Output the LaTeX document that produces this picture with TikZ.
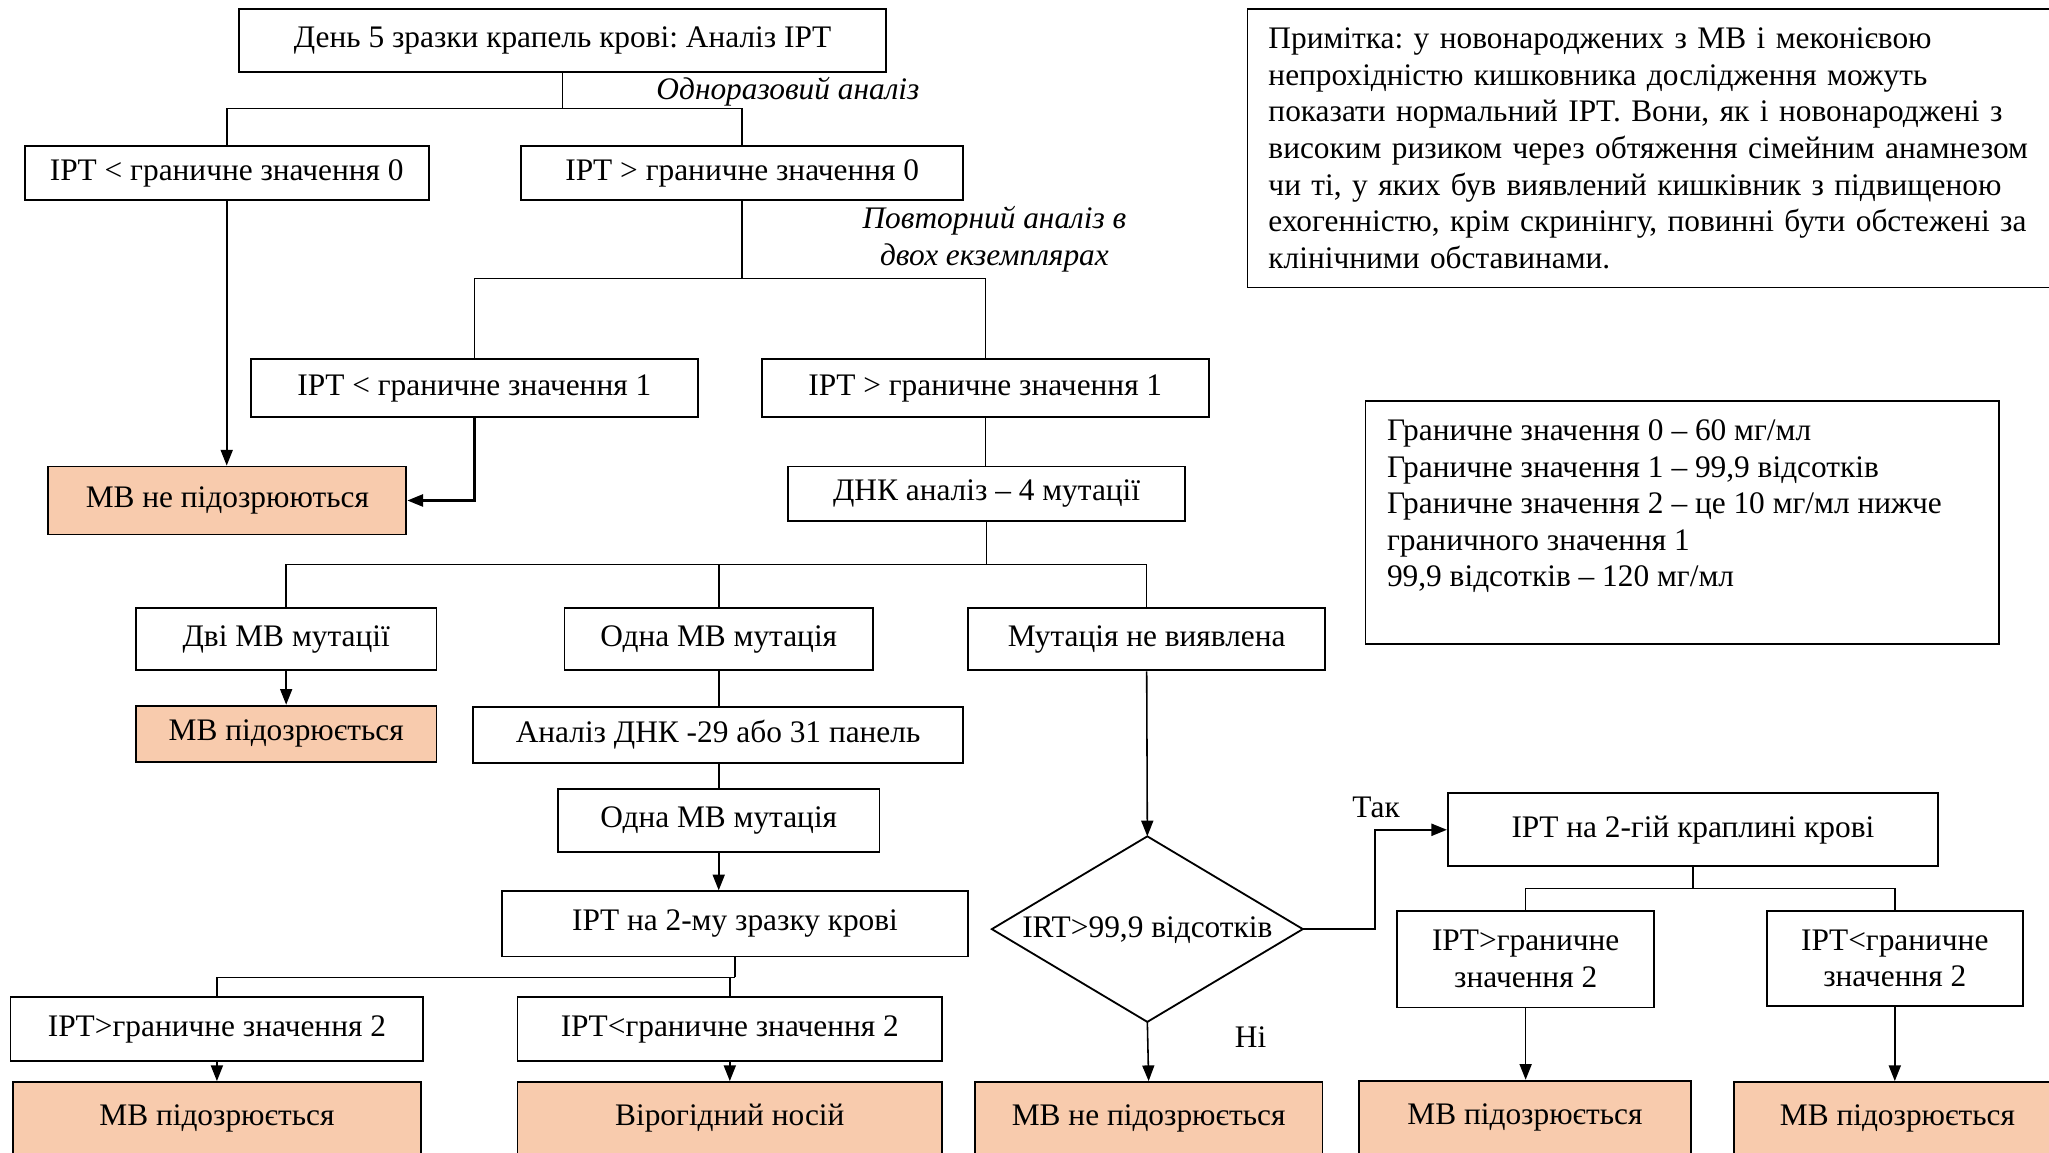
\documentclass[tikz,border=0pt]{standalone}
\usepackage{fontspec}
\setmainfont{Liberation Serif}
\usetikzlibrary{arrows.meta}
\definecolor{peach}{HTML}{F8CBAD}
\frenchspacing
\begin{document}
\begin{tikzpicture}[x=0.5pt,y=-0.5pt,
 sz/.style 2 args={minimum width=#1*0.5pt, minimum height=#2*0.5pt},
 txt/.style={font=\fontsize{12pt}{14pt}\selectfont},
 box/.style={txt, draw, line width=0.7pt, inner sep=0pt, align=center},
 res/.style={box, fill=peach},
 conn/.style={line width=0.6pt},
 arr/.style={conn, -{Triangle[length=6pt,width=4.6pt]}},
 lbl/.style={txt, inner sep=0pt},
 ital/.style={txt, inner sep=0pt, font=\fontsize{12pt}{14pt}\selectfont\itshape, align=center},
]
\useasboundingbox (0,0) rectangle (1568,882);
\clip (0,0) rectangle (1568,882);
\fill[white] (0,0) rectangle (1568,882);

% --- top part
\node[box, sz={495}{48}] (top) at (430.5,31) {День 5 зразки крапель крові: Аналіз IPT};
\node[box, sz={309}{41}] (lt0) at (173.5,132.5) {IPT < граничне значення 0};
\node[box, sz={338}{41}] (gt0) at (568,132.5) {IPT > граничне значення 0};
\node[ital] (single) at (603,70) {Одноразовий аналіз};
\node[ital] (repeat) at (761,183) {Повторний аналіз в\\двох екземплярах};

\node[box, sz={342}{44}] (lt1) at (363,297) {IPT < граничне значення 1};
\node[box, sz={342}{44}] (gt1) at (754,297) {IPT > граничне значення 1};
\node[res, sz={274}{52}] (ns1) at (174,383) {МВ не підозрюються};
\node[box, sz={304}{42}] (dna) at (755,378) {ДНК аналіз – 4 мутації};

\node[box, sz={230}{48}] (two) at (219,489) {Дві МВ мутації};
\node[box, sz={236}{48}] (one) at (550,489) {Одна МВ мутація};
\node[box, sz={273}{48}] (none) at (877.5,489) {Мутація не виявлена};
\node[res, sz={230}{43}] (sus1) at (219,561.5) {МВ підозрюється};
\node[box, sz={375}{43}] (panel) at (549.5,562.5) {Аналіз ДНК -29 або 31 панель};
\node[box, sz={246}{48}] (one2) at (550,628) {Одна МВ мутація};
\node[box, sz={357}{50}] (ipt2) at (562.5,707) {IPT на 2-му зразку крові};
\node[box, sz={316}{49}] (gt2) at (166,787.5) {IPT>граничне значення 2};
\node[box, sz={325}{49}] (lt2) at (558.5,787.5) {IPT<граничне значення 2};
\node[res, sz={312}{56}] (sus2) at (166,856) {МВ підозрюється};
\node[res, sz={325}{56}] (carrier) at (558.5,856) {Вірогідний носій};

% --- diamond
\coordinate (dl) at (759,711);
\coordinate (dt) at (878,640);
\coordinate (dr) at (997,711);
\coordinate (db) at (878,782);
\draw[line width=0.7pt] (dl) -- (dt) -- (dr) -- (db) -- cycle;
\node[lbl] (dtext) at (878,712) {IRT>99,9 відсотків};
\node[res, sz={266}{56}] (ns2) at (879,856) {МВ не підозрюється};
\node[lbl] (yes) at (1053,618) {Так};
\node[lbl] (no) at (957,794) {Ні};

\node[box, sz={375}{56}] (ipt2g) at (1295.5,635) {IPT на 2-гій краплині крові};
\node[box, sz={197}{74}] (gt2r) at (1167.5,734) {IPT>граничне\\значення 2};
\node[box, sz={196}{73}] (lt2r) at (1450,733.5) {IPT<граничне\\значення 2};
\node[res, sz={254}{57}] (sus3) at (1167,855.5) {МВ підозрюється};
\node[res, sz={250}{56}] (sus4) at (1452,856) {МВ підозрюється};

% --- note and legend
\node[txt, draw, line width=0.7pt, anchor=west, inner xsep=8pt, inner ysep=0pt,
      minimum height=213*0.5pt, text width=297pt, align=left] (note) at (954,113.5)
 {Примітка: у новонароджених з МВ і меконієвою\\
  непрохідністю кишковника дослідження можуть\\
  показати нормальний IPT. Вони, як і новонароджені з\\
  високим ризиком через обтяження сімейним анамнезом\\
  чи ті, у яких був виявлений кишківник з підвищеною\\
  ехогенністю, крім скринінгу, повинні бути обстежені за\\
  клінічними обставинами.};

\node[draw, line width=0.7pt, inner sep=0pt, sz={485}{186}] (legend) at (1287.5,400) {};
\node[txt, anchor=west, inner sep=0pt, align=left] (legendtext) at (1061,387.5)
 {Граничне значення 0 – 60 мг/мл\\
  Граничне значення 1 – 99,9 відсотків\\
  Граничне значення 2 – це 10 мг/мл нижче\\
  граничного значення 1\\
  99,9 відсотків – 120 мг/мл};

% --- connectors
\coordinate (j1) at (430.5,83);
\draw[conn] (top.south) -- (j1);
\draw[conn] (lt0.north) |- (j1) -| (gt0.north);
\draw[arr] (lt0.south) -- (lt0.south |- ns1.north);

\coordinate (j2) at (568,213);
\draw[conn] (gt0.south) -- (j2);
\draw[conn] (lt1.north) |- (j2) -| (gt1.north);
\draw[arr, line width=0.9pt] (lt1.south) |- (ns1.east);
\draw[conn] (gt1.south) -- (gt1.south |- dna.north);

\coordinate (j3) at (755,432);
\draw[conn] (dna.south) -- (j3);
\draw[conn] (two.north) |- (j3) -| (none.north);
\draw[conn] (one.north) -- (one.north |- j3);
\draw[arr] (two.south) -- (sus1.north);
\draw[conn] (one.south) -- (panel.north -| one.south);
\draw[conn] (panel.south -| one2.north) -- (one2.north);
\draw[arr] (one2.south) -- (one2.south |- ipt2.north);

\coordinate (j4) at (562.5,748);
\draw[conn] (ipt2.south) -- (j4);
\draw[conn] (gt2.north) |- (j4);
\draw[conn] (lt2.north) -- (lt2.north |- j4);
\draw[arr] (gt2.south) -- (sus2.north);
\draw[arr] (lt2.south) -- (carrier.north);

\draw[arr] (none.south) -- (dt);
\draw[arr] (db) -- (ns2.north);
\draw[arr, line width=0.9pt] (dr) -- ++(55,0) |- (ipt2g.west);

\coordinate (j5) at (1295.5,680);
\draw[conn] (ipt2g.south) -- (j5);
\draw[conn] (gt2r.north) |- (j5) -| (lt2r.north);
\draw[arr] (gt2r.south) -- (gt2r.south |- sus3.north);
\draw[arr] (lt2r.south) -- (lt2r.south |- sus4.north);
\end{tikzpicture}
\end{document}
